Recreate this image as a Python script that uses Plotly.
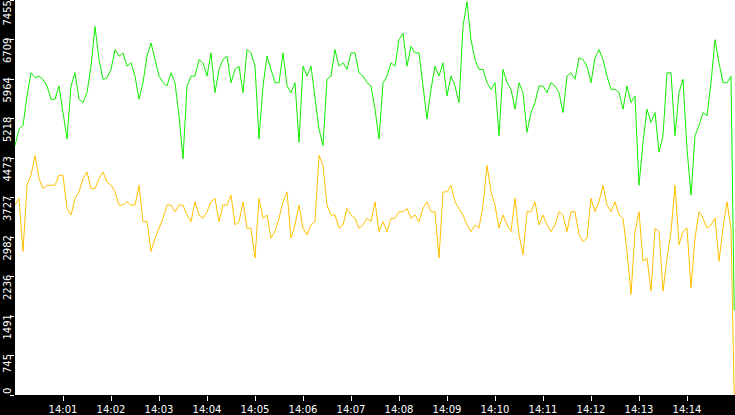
import pandas as pd
import plotly.graph_objects as go

# readings every 5 s from 14:00:00, last one at 14:14:59
green = [4708, 5020, 5083, 5645, 6082, 5988, 6019, 5957, 5832, 5582, 5582, 5832, 5332, 4833, 5832,
         6082, 5582, 5520, 5707, 6206, 6956, 6331, 5957, 5988, 6144, 6519, 6394, 6456, 6206, 6269,
         6019, 5582, 5894, 6394, 6643, 6331, 6019, 5894, 5832, 6082, 5894, 5270, 4458, 5832, 6019,
         6019, 6331, 6269, 6019, 6456, 5707, 6144, 6331, 6394, 5894, 6144, 6206, 5707, 6519, 6456,
         6206, 4833, 5832, 6394, 6144, 5894, 5894, 6456, 5832, 5707, 5894, 4770, 6206, 6019, 6206,
         5645, 5020, 4708, 5957, 6019, 6519, 6206, 6269, 6144, 6456, 6456, 6082, 6019, 5894, 5832,
         5395, 4833, 5894, 6019, 6269, 6206, 6706, 6831, 6206, 6581, 6456, 6456, 5832, 5208, 5769,
         6206, 6019, 6269, 5645, 6019, 5832, 5520, 6956, 7424, 6706, 6331, 6144, 6144, 5894, 5769,
         5894, 4895, 6144, 5894, 5769, 5395, 5894, 5707, 4958, 5332, 5520, 5832, 5832, 5707, 5894,
         5832, 5707, 5332, 6019, 6082, 5957, 6362, 6331, 6206, 5894, 6362, 6519, 6331, 6019, 5769,
         5769, 5707, 5395, 5832, 5520, 5645, 3959, 4770, 5395, 5145, 5332, 4583, 4895, 6082, 6082,
         4895, 5707, 5957, 4646, 3772, 4895, 5083, 5332, 5270, 5894, 6706, 6269, 5894, 5894, 6019,
         1590]

yellow = [3584, 3709, 2710, 3959, 4146, 4521, 4084, 3896, 3959, 3959, 3959, 4146, 4146, 3522, 3397,
          3709, 3834, 4084, 4209, 3896, 3896, 4084, 4209, 4021, 3959, 3834, 3584, 3584, 3647, 3584,
          3584, 3959, 3272, 3272, 2710, 2960, 3147, 3335, 3584, 3584, 3459, 3584, 3584, 3397, 3272,
          3647, 3397, 3335, 3459, 3647, 3709, 3272, 3584, 3584, 3772, 3210, 3272, 3647, 3147, 3147,
          2586, 3709, 3335, 3397, 2960, 3085, 3335, 3647, 3834, 2960, 3210, 3584, 3147, 3023, 3210,
          3272, 4521, 4334, 3584, 3397, 3397, 3147, 3210, 3522, 3397, 3335, 3147, 3210, 3335, 3272,
          3647, 3085, 3272, 3085, 3335, 3335, 3459, 3459, 3522, 3335, 3397, 3272, 3522, 3647, 3459,
          3459, 2586, 3834, 3834, 3959, 3647, 3522, 3397, 3210, 3085, 3210, 3147, 3584, 4334, 3834,
          3584, 3147, 3397, 3210, 3085, 3709, 3023, 2648, 3459, 3459, 3647, 3210, 3397, 3210, 3085,
          3210, 3459, 3397, 3085, 3459, 3459, 3023, 2898, 2960, 3709, 3459, 3647, 3959, 3584, 3459,
          3647, 3397, 3335, 2710, 1899, 3085, 3459, 2523, 2586, 1961, 3147, 3085, 1961, 2586, 3085,
          3959, 2835, 3085, 3147, 2024, 2960, 3459, 3335, 3147, 3210, 3335, 2523, 3147, 3647, 3147,
          0]

times = list(pd.date_range("2024-01-01 14:00:00", periods=180, freq="5s")) + [pd.Timestamp("2024-01-01 14:14:59")]

y_ticks = [0, 745, 1491, 2236, 2982, 3727, 4473, 5218, 5964, 6709, 7455]
x_ticks = ["14:01", "14:02", "14:03", "14:04", "14:05", "14:06", "14:07",
           "14:08", "14:09", "14:10", "14:11", "14:12", "14:13", "14:14"]

fig = go.Figure()
fig.add_trace(go.Scatter(x=times, y=yellow, mode="lines", line=dict(color="#ffc000", width=1)))
fig.add_trace(go.Scatter(x=times, y=green, mode="lines", line=dict(color="#11ee00", width=1)))

# rotated y labels hang below their tick, the lowest one sits above it
for v in y_ticks:
    if v == 0:
        anchor, shift = "bottom", 0
    elif v == y_ticks[-1]:
        anchor, shift = "top", 0
    else:
        anchor, shift = "top", 2
    fig.add_annotation(x=0, xref="paper", xanchor="center", xshift=-8, y=v, yref="y",
                       yanchor=anchor, yshift=shift,
                       text=str(v), textangle=-90, showarrow=False, borderpad=0,
                       font=dict(family="DejaVu Sans", size=10, color="white"))

fig.update_layout(
    width=735, height=415,
    margin=dict(l=15, r=0, t=0, b=17),
    paper_bgcolor="black", plot_bgcolor="white",
    showlegend=False,
    xaxis=dict(type="date", range=["2024-01-01 14:00:00", "2024-01-01 14:15:00"],
               tickvals=["2024-01-01 " + t for t in x_ticks], ticktext=x_ticks,
               ticks="outside", ticklen=5, tickcolor="white", tickwidth=1,
               showgrid=False, zeroline=False, showline=False,
               tickfont=dict(family="DejaVu Sans", size=10, color="white")),
    yaxis=dict(range=[0, 7455], tickvals=y_ticks, showticklabels=False,
               ticks="outside", ticklen=4, tickcolor="white", tickwidth=1,
               showgrid=False, zeroline=False, showline=False),
)

fig.write_html("out.html", config={"displayModeBar": False},
               post_script="document.body.style.margin='0';")
